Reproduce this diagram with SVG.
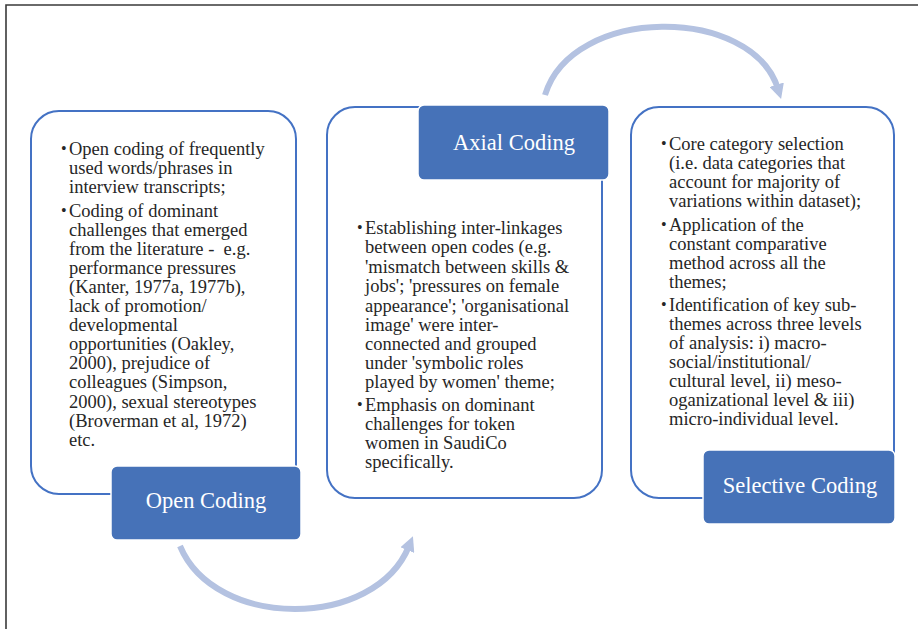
<svg xmlns="http://www.w3.org/2000/svg" width="918" height="629" viewBox="0 0 918 629">
<defs>
<style>
.frame{fill:none;stroke:#3a3a3a;stroke-width:1.6}
.outline{fill:#fff;stroke:#4472c4;stroke-width:2}
.label{fill:#4672b8;stroke:#fff;stroke-width:1.5}
.body{font-family:"Liberation Serif","Times New Roman",serif;font-size:18.5px;fill:#262626}
.bul{font-family:"Liberation Serif","Times New Roman",serif;font-size:16px;fill:#262626}
.title{font-family:"Liberation Serif","Times New Roman",serif;font-size:22.5px;fill:#fff;text-anchor:middle}
.arrow{fill:none;stroke:#b4c2e1;stroke-width:6}
</style>
<marker id="ah" viewBox="0 0 10 10" refX="3" refY="5" markerWidth="15" markerHeight="15" markerUnits="userSpaceOnUse" orient="auto">
<path d="M0,0 L10,5 L0,10 z" fill="#b4c2e1"/>
</marker>
</defs>
<rect width="918" height="629" fill="#fff"/>
<path class="frame" d="M6,629 V5 H918"/>

<g id="connectors">
<path class="arrow" d="M545,95 C572,5 752,5 778,89" marker-end="url(#ah)"/>
<path class="arrow" d="M180,546 C215,630 375,630 409,546" marker-end="url(#ah)"/>
</g>

<g id="open-coding">
<rect class="outline" x="31" y="111" width="265" height="383" rx="28"/>
<text class="bul"><tspan x="61" y="154">•</tspan><tspan x="61" y="216">•</tspan></text>
<text class="body">
<tspan x="69" y="155">Open coding of frequently</tspan>
<tspan x="69" y="174">used words/phrases in</tspan>
<tspan x="69" y="193">interview transcripts;</tspan>
<tspan x="69" y="217">Coding of dominant</tspan>
<tspan x="69" y="236">challenges that emerged</tspan>
<tspan x="69" y="255" xml:space="preserve">from the literature -  e.g.</tspan>
<tspan x="69" y="274">performance pressures</tspan>
<tspan x="69" y="293">(Kanter, 1977a, 1977b),</tspan>
<tspan x="69" y="312">lack of promotion/</tspan>
<tspan x="69" y="331">developmental</tspan>
<tspan x="69" y="350">opportunities (Oakley,</tspan>
<tspan x="69" y="369">2000), prejudice of</tspan>
<tspan x="69" y="388">colleagues (Simpson,</tspan>
<tspan x="69" y="408">2000), sexual stereotypes</tspan>
<tspan x="69" y="427">(Broverman et al, 1972)</tspan>
<tspan x="69" y="446">etc.</tspan>
</text>
<rect class="label" x="111" y="466" width="190" height="74" rx="6"/>
<text class="title" x="206" y="508">Open Coding</text>
</g>

<g id="axial-coding">
<rect class="outline" x="327" y="107" width="275" height="391" rx="28"/>
<text class="bul"><tspan x="357" y="233">•</tspan><tspan x="357" y="410">•</tspan></text>
<text class="body">
<tspan x="365" y="234">Establishing inter-linkages</tspan>
<tspan x="365" y="253">between open codes (e.g.</tspan>
<tspan x="365" y="273">'mismatch between skills &amp;</tspan>
<tspan x="365" y="292">jobs'; 'pressures on female</tspan>
<tspan x="365" y="312">appearance'; 'organisational</tspan>
<tspan x="365" y="331">image' were inter-</tspan>
<tspan x="365" y="350">connected and grouped</tspan>
<tspan x="365" y="369">under 'symbolic roles</tspan>
<tspan x="365" y="388">played by women' theme;</tspan>
<tspan x="365" y="411">Emphasis on dominant</tspan>
<tspan x="365" y="430">challenges for token</tspan>
<tspan x="365" y="449">women in SaudiCo</tspan>
<tspan x="365" y="468">specifically.</tspan>
</text>
<rect class="label" x="418" y="105" width="191" height="75" rx="6"/>
<text class="title" x="514" y="150">Axial Coding</text>
</g>

<g id="selective-coding">
<rect class="outline" x="631" y="107" width="263" height="391" rx="28"/>
<text class="bul"><tspan x="661" y="149">•</tspan><tspan x="661" y="230">•</tspan><tspan x="661" y="310">•</tspan></text>
<text class="body">
<tspan x="669" y="150">Core category selection</tspan>
<tspan x="669" y="169">(i.e. data categories that</tspan>
<tspan x="669" y="188">account for majority of</tspan>
<tspan x="669" y="207">variations within dataset);</tspan>
<tspan x="669" y="231">Application of the</tspan>
<tspan x="669" y="250">constant comparative</tspan>
<tspan x="669" y="269">method across all the</tspan>
<tspan x="669" y="288">themes;</tspan>
<tspan x="669" y="311">Identification of key sub-</tspan>
<tspan x="669" y="330">themes across three levels</tspan>
<tspan x="669" y="349">of analysis: i) macro-</tspan>
<tspan x="669" y="368">social/institutional/</tspan>
<tspan x="669" y="387">cultural level, ii) meso-</tspan>
<tspan x="669" y="406">oganizational level &amp; iii)</tspan>
<tspan x="669" y="425">micro-individual level.</tspan>
</text>
<rect class="label" x="703" y="450" width="192" height="74" rx="6"/>
<text class="title" x="800" y="493">Selective Coding</text>
</g>
</svg>
